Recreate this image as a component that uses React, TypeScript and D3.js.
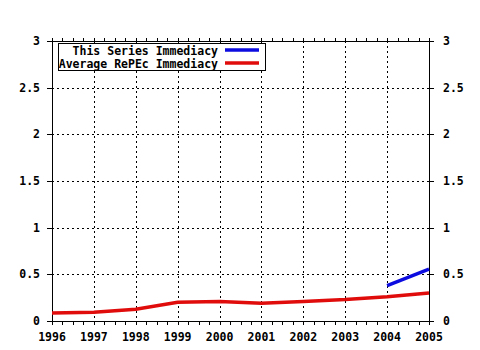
import React from "react";
import * as d3 from "d3";

const years = [1996, 1997, 1998, 1999, 2000, 2001, 2002, 2003, 2004, 2005];
const averageRepec = [0.085, 0.095, 0.125, 0.2, 0.21, 0.19, 0.21, 0.23, 0.26, 0.3];
const seriesYears = [2004, 2005];
const seriesValues = [0.38, 0.555];
const yTicks = [0, 0.5, 1, 1.5, 2, 2.5, 3];
const yTickLabels = ["0", "0.5", "1", "1.5", "2", "2.5", "3"];
const legendLabels = ["This Series Immediacy", "Average RePEc Immediacy"];

const W = 480, H = 350;
const left = 52, right = 429, top = 41, bottom = 321;
const FONT = "'DejaVu Sans Mono', monospace";

export default function App() {
  const x = d3.scaleLinear().domain([1996, 2005]).range([left, right]);
  const y = d3.scaleLinear().domain([0, 3]).range([bottom, top]);
  const line = d3.line<[number, number]>().x(d => x(d[0])).y(d => y(d[1]));
  const redPts: [number, number][] = years.map((yr, i) => [yr, averageRepec[i]]);
  const bluePts: [number, number][] = seriesYears.map((yr, i) => [yr, seriesValues[i]]);
  const minor = d3.range(0, 36 + 1).map(i => 1996 + i * 0.25);
  const red = "#e00c0c";
  const blue = "#0c0ce0";
  return (
    <svg width={W} height={H} style={{ position: "absolute", left: 0, top: 0, background: "#fff" }}>
      <rect x={0} y={0} width={W} height={H} fill="#fff" />
      <g shapeRendering="crispEdges" stroke="#000" strokeWidth={1} strokeDasharray="2,3">
        {years.slice(1, -1).map(v => (
          <line key={"gx" + v} x1={Math.round(x(v)) + 0.5} x2={Math.round(x(v)) + 0.5} y1={top} y2={bottom} />
        ))}
        {yTicks.slice(1, -1).map(v => (
          <line key={"gy" + v} x1={left} x2={right} y1={Math.round(y(v)) + 0.5} y2={Math.round(y(v)) + 0.5} />
        ))}
      </g>
      <g shapeRendering="crispEdges" stroke="#000" strokeWidth={1}>
        <rect x={left + 0.5} y={top + 0.5} width={right - left} height={bottom - top} fill="none" />
        {minor.map(v => (
          <g key={"t" + v}>
            <line x1={Math.round(x(v)) + 0.5} x2={Math.round(x(v)) + 0.5} y1={bottom} y2={bottom + 4} />
            <line x1={Math.round(x(v)) + 0.5} x2={Math.round(x(v)) + 0.5} y1={top - 3} y2={top} />
          </g>
        ))}
        {yTicks.map(v => (
          <g key={"yt" + v}>
            <line x1={left - 5} x2={left} y1={Math.round(y(v)) + 0.5} y2={Math.round(y(v)) + 0.5} />
            <line x1={right} x2={right + 5} y1={Math.round(y(v)) + 0.5} y2={Math.round(y(v)) + 0.5} />
          </g>
        ))}
      </g>
      <g fontFamily={FONT} fontWeight="bold" fontSize={11.5} fill="#000">
        {yTicks.map((v, i) => (
          <text key={"yl" + v} x={40} y={y(v) + 4} textAnchor="end">{yTickLabels[i]}</text>
        ))}
        {yTicks.map((v, i) => (
          <text key={"yr" + v} x={443} y={y(v) + 4} textAnchor="start">{yTickLabels[i]}</text>
        ))}
        {years.map(v => (
          <text key={"xl" + v} x={x(v)} y={341} textAnchor="middle">{v}</text>
        ))}
      </g>
      <path d={line(redPts) || ""} fill="none" stroke={red} strokeWidth={3.5} />
      <path d={line(bluePts) || ""} fill="none" stroke={blue} strokeWidth={3.5} />
      <g>
        <rect x={58.5} y={43.5} width={207} height={27} fill="#fff" stroke="#000" strokeWidth={1} shapeRendering="crispEdges" />
        <text x={218} y={55} textAnchor="end" fontFamily={FONT} fontWeight="bold" fontSize={11.5}>{legendLabels[0]}</text>
        <text x={218} y={67.5} textAnchor="end" fontFamily={FONT} fontWeight="bold" fontSize={11.5}>{legendLabels[1]}</text>
        <line x1={225} x2={259} y1={50} y2={50} stroke={blue} strokeWidth={3.5} />
        <line x1={225} x2={259} y1={63} y2={63} stroke={red} strokeWidth={3.5} />
      </g>
    </svg>
  );
}
